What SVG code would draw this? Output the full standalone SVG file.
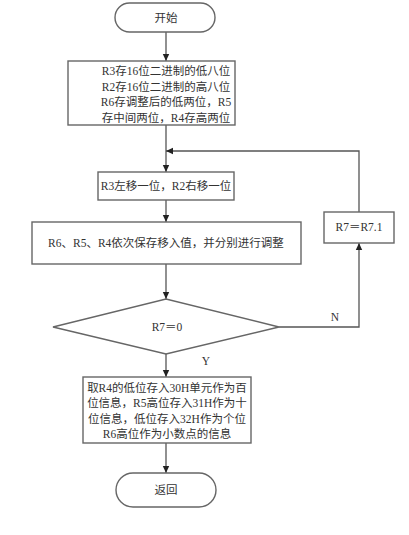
<svg xmlns="http://www.w3.org/2000/svg" width="409" height="535" viewBox="0 0 409 535">
<style>
.s{fill:#fff;stroke:#666;stroke-width:1.4}
.c{fill:none;stroke:#555;stroke-width:1.3}
.t{font-family:"Liberation Serif","Noto Sans CJK SC",serif;font-size:11.5px;fill:#333;text-anchor:middle}
</style>
<defs>
<marker id="a" markerWidth="8" markerHeight="8" refX="7" refY="4" orient="auto" markerUnits="userSpaceOnUse">
<path d="M0,0.8 L7,4 L0,7.2 Z" fill="#222"/>
</marker>
</defs>
<rect width="409" height="535" fill="#fff"/>
<g id="connectors">
<line class="c" x1="166" y1="32" x2="166" y2="61" marker-end="url(#a)"/>
<line class="c" x1="166" y1="125" x2="166" y2="172" marker-end="url(#a)"/>
<line class="c" x1="166" y1="200" x2="166" y2="222" marker-end="url(#a)"/>
<line class="c" x1="166" y1="264" x2="166" y2="299" marker-end="url(#a)"/>
<line class="c" x1="166" y1="354" x2="166" y2="377" marker-end="url(#a)"/>
<line class="c" x1="166" y1="443" x2="166" y2="473" marker-end="url(#a)"/>
<polyline class="c" points="279,327 359,327 359,243" marker-end="url(#a)"/>
<polyline class="c" points="359,212 359,151 166,151" marker-end="url(#a)"/>
<text class="t" x="335" y="321">N</text>
<text class="t" x="206" y="365">Y</text>
</g>
<g id="start">
<rect class="s" x="115" y="3" width="100" height="29" rx="14.5"/>
<text class="t" x="166" y="22">开始</text>
</g>
<g id="init">
<rect class="s" x="68" y="61" width="167" height="64"/>
<text class="t" x="166" y="75">R3存16位二进制的低八位</text>
<text class="t" x="166" y="91">R2存16位二进制的高八位</text>
<text class="t" x="166" y="106">R6存调整后的低两位，R5</text>
<text class="t" x="166" y="122">存中间两位，R4存高两位</text>
</g>
<g id="shift">
<rect class="s" x="98" y="172" width="136" height="28"/>
<text class="t" x="166" y="190">R3左移一位，R2右移一位</text>
</g>
<g id="adjust">
<rect class="s" x="32" y="222" width="269" height="42"/>
<text class="t" x="166" y="247">R6、R5、R4依次保存移入值，并分别进行调整</text>
</g>
<g id="decision">
<polygon class="s" points="53,327 166,299 279,327 166,354"/>
<text class="t" x="167" y="331">R7＝0</text>
</g>
<g id="dec">
<rect class="s" x="324" y="212" width="70" height="31"/>
<text class="t" x="359" y="231">R7＝R7.1</text>
</g>
<g id="store">
<rect class="s" x="83" y="377" width="168" height="66"/>
<text class="t" x="167" y="392">取R4的低位存入30H单元作为百</text>
<text class="t" x="167" y="407">位信息，R5高位存入31H作为十</text>
<text class="t" x="167" y="423">位信息，低位存入32H作为个位</text>
<text class="t" x="167" y="438">R6高位作为小数点的信息</text>
</g>
<g id="return">
<rect class="s" x="116" y="473" width="100" height="34" rx="17"/>
<text class="t" x="166" y="494">返回</text>
</g>
</svg>
